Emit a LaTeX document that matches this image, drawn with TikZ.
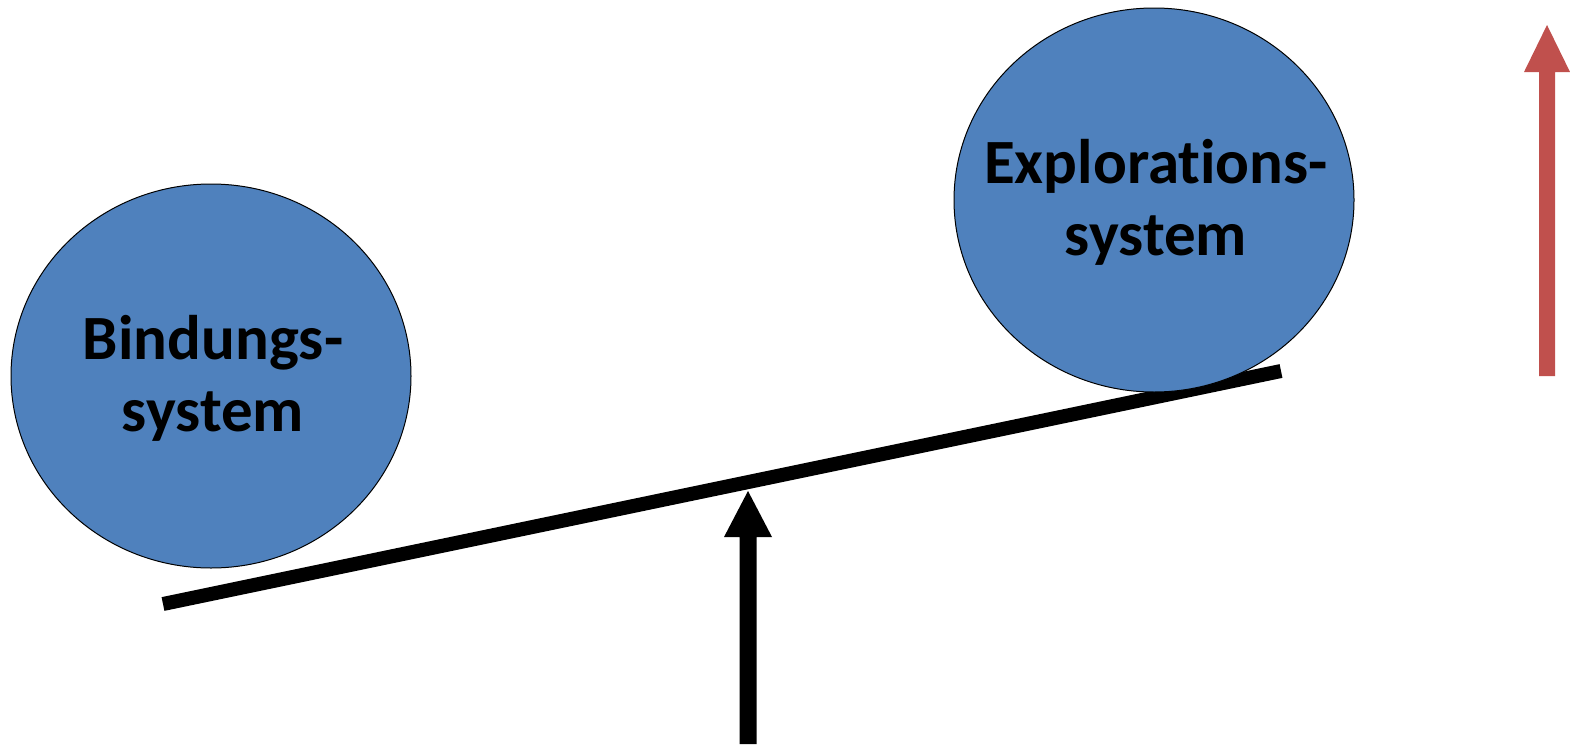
\documentclass[tikz,border=0pt]{standalone}
\usepackage{fontspec}
\setmainfont[Ligatures={NoCommon}]{Carlito}
\usetikzlibrary{shapes.geometric}
\definecolor{blueball}{HTML}{4F81BD}
\definecolor{redarrow}{HTML}{C0504D}
\tikzset{
  ball/.style={ellipse, draw=black, line width=1pt, fill=blueball, minimum width=400pt, minimum height=384pt, inner sep=0pt},
  balltext/.style={align=center, inner sep=0pt, font=\fontsize{63}{72}\selectfont\bfseries},
  beam/.style={line width=14pt, black},
}
\begin{document}
\begin{tikzpicture}[x=1pt,y=-1pt]
\useasboundingbox (0,0) rectangle (1570,744);
% beam
\coordinate (beamL) at (163,604);
\coordinate (beamR) at (1281,371);
\draw[beam] (beamL) -- (beamR);
% balls
\node[ball] (bind) at (211,376) {};
\node[balltext] (bindt) at (213,378) {Bindungs-\\system};
\node[ball] (expl) at (1154,200) {};
\node[balltext] (explt) at (1156,202) {Explorations-\\system};
% black fulcrum arrow
\coordinate (ftip) at (748,491);
\coordinate (fbase) at (748,744);
\fill[black] (ftip) -- ++(24,46) -- ++(-15.5,0) |- (fbase) -- ++(-8.5,0) -- ++(0,-207) -- ++(-15.5,0) -- cycle;
% red arrow
\coordinate (rtip) at (1547,25);
\coordinate (rbase) at (1547,376);
\fill[redarrow] (rtip) -- ++(23,47) -- ++(-15,0) |- (rbase) -- ++(-8,0) -- ++(0,-304) -- ++(-15,0) -- cycle;
\end{tikzpicture}
\end{document}
